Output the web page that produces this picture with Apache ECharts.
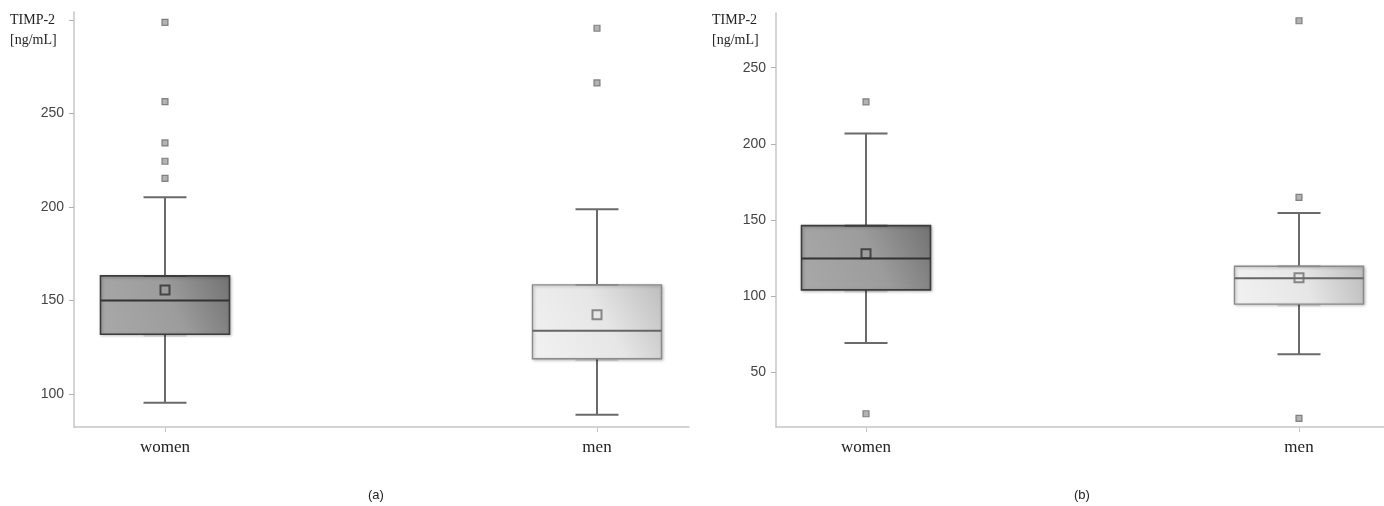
<!DOCTYPE html>
<html>
<head>
<meta charset="utf-8">
<script src="https://cdn.jsdelivr.net/npm/echarts@6/dist/echarts.min.js"></script>
<style>
html,body{margin:0;padding:0;background:#fff;}
#chart{width:1384px;height:506px;}
</style>
</head>
<body>
<div id="chart"></div>
<script>
// ---- data ----
const categories = ['women', 'men'];
// [min whisker, Q1, median, Q3, max whisker]
const boxA = [[95.4, 132.0, 150.0, 163.2, 205.2], [89.0, 118.9, 133.8, 158.4, 198.8]];
const meanA = [155.7, 142.4];
const outliersA = [[298.8, 256.4, 234.3, 224.5, 215.3], [295.6, 266.4]];
const boxB = [[69.2, 104.1, 124.8, 146.3, 206.8], [61.8, 94.8, 111.7, 119.6, 154.6]];
const meanB = [127.9, 112.1];
const outliersB = [[227.6, 22.8], [280.8, 164.8, 19.8]];
const yTicksA = [100, 150, 200, 250, 300];
const yLabelsA = [100, 150, 200, 250];
const yTicksB = [50, 100, 150, 200, 250];
const axisTitle = ['TIMP-2', '[ng/mL]'];
const captions = ['(a)', '(b)'];

// ---- styling ----
const BOX_W = 129, CAP_W = 43;
const boxStyles = [
  { fill: { type: 'linear', x: 0, y: 1, x2: 1, y2: 0, colorStops: [
      { offset: 0, color: '#a9a9a9' }, { offset: 0.55, color: '#9c9c9c' }, { offset: 1, color: '#727272' }] },
    stroke: '#3c3c3c', median: '#333333', lw: 1.6, mean: '#2e2e2e' },
  { fill: { type: 'linear', x: 0, y: 1, x2: 1, y2: 0, colorStops: [
      { offset: 0, color: '#f2f2f2' }, { offset: 0.55, color: '#e6e6e6' }, { offset: 1, color: '#bdbdbd' }] },
    stroke: '#8a8a8a', median: '#666666', lw: 1.4, mean: '#6e6e6e' }
];

function boxData(box) {
  return box.map((b, i) => [i + 1].concat(b));
}
function outlierData(out) {
  const res = [];
  out.forEach((arr, i) => arr.forEach(v => res.push([i + 1, v])));
  return res;
}
function meanData(m) {
  return m.map((v, i) => ({ value: [i + 1, v], itemStyle: { borderColor: boxStyles[i].mean } }));
}

function renderBox(params, api) {
  const idx = params.dataIndex;
  const st = boxStyles[idx];
  const x = api.value(0);
  const pMin = api.coord([x, api.value(1)]);
  const pQ1 = api.coord([x, api.value(2)]);
  const pMed = api.coord([x, api.value(3)]);
  const pQ3 = api.coord([x, api.value(4)]);
  const pMax = api.coord([x, api.value(5)]);
  const cx = pMed[0];
  const hw = BOX_W / 2, cw = CAP_W / 2;
  const wl = { stroke: '#6a6a6a', lineWidth: 2 };
  return {
    type: 'group',
    children: [
      { type: 'line', shape: { x1: cx, y1: pMax[1], x2: cx, y2: pQ3[1] }, style: wl },
      { type: 'line', shape: { x1: cx, y1: pMin[1], x2: cx, y2: pQ1[1] }, style: wl },
      { type: 'line', shape: { x1: cx - cw, y1: pMax[1], x2: cx + cw, y2: pMax[1] }, style: wl },
      { type: 'line', shape: { x1: cx - cw, y1: pMin[1], x2: cx + cw, y2: pMin[1] }, style: wl },
      { type: 'line', shape: { x1: cx - cw, y1: pQ1[1] + 1.5, x2: cx + cw, y2: pQ1[1] + 1.5 }, style: { stroke: 'rgba(0,0,0,0.12)', lineWidth: 2 } },
      { type: 'rect', shape: { x: cx - hw, y: pQ3[1], width: BOX_W, height: pQ1[1] - pQ3[1] },
        style: { fill: st.fill, stroke: st.stroke, lineWidth: st.lw,
          shadowBlur: 3, shadowColor: 'rgba(0,0,0,0.25)', shadowOffsetX: 1, shadowOffsetY: 1 } },
      { type: 'line', shape: { x1: cx - cw, y1: pQ3[1], x2: cx + cw, y2: pQ3[1] }, style: { stroke: st.stroke, lineWidth: st.lw + 0.4 } },
      { type: 'line', shape: { x1: cx - hw, y1: pMed[1], x2: cx + hw, y2: pMed[1] }, style: { stroke: st.median, lineWidth: 2 } }
    ]
  };
}

function makeGrid(left, top, width, height) { return { left, top, width, height, containLabel: false }; }

const axisLineStyle = { color: '#c6c6c6', width: 1.5 };
function makeXAxis(gridIndex, min, max) {
  return {
    type: 'value', gridIndex, min, max,
    axisLine: { show: true, lineStyle: axisLineStyle },
    axisTick: { show: true, length: 5, lineStyle: { color: '#c6c6c6' }, customValues: [1, 2] },
    axisLabel: { customValues: [1, 2], formatter: v => categories[Math.round(v) - 1] || '',
      fontFamily: 'Liberation Serif', fontSize: 17, color: '#222', margin: 12 },
    splitLine: { show: false }
  };
}
function makeYAxis(gridIndex, min, max, ticks, labels) {
  return {
    type: 'value', gridIndex, min, max,
    axisLine: { show: true, lineStyle: axisLineStyle },
    axisTick: { show: true, length: 5, lineStyle: { color: '#b0b0b0' }, customValues: ticks },
    axisLabel: { customValues: labels, fontFamily: 'Liberation Sans', fontSize: 14, color: '#444', margin: 10 },
    splitLine: { show: false }
  };
}

function seriesFor(idx, box, mean, outs) {
  return [
    { type: 'custom', xAxisIndex: idx, yAxisIndex: idx, data: boxData(box), renderItem: renderBox,
      encode: { x: 0, y: [1, 2, 3, 4, 5] }, silent: true, z: 2 },
    { type: 'scatter', xAxisIndex: idx, yAxisIndex: idx, data: outlierData(outs), symbol: 'rect', symbolSize: 6,
      itemStyle: { color: '#a0a0a0', borderColor: '#6a6a6a', borderWidth: 1.2 }, silent: true, z: 3 },
    { type: 'scatter', xAxisIndex: idx, yAxisIndex: idx, data: meanData(mean), symbol: 'rect', symbolSize: 9,
      itemStyle: { color: 'rgba(0,0,0,0)', borderWidth: 2 }, silent: true, z: 4 }
  ];
}

const titleStyle = { fontFamily: 'Liberation Serif', fontSize: 14, fill: '#222' };
const chart = echarts.init(document.getElementById('chart'), null, { renderer: 'canvas' });
chart.setOption({
  animation: false,
  backgroundColor: '#fff',
  grid: [makeGrid(74, 12, 615, 415), makeGrid(776, 13, 608, 414)],
  xAxis: [makeXAxis(0, 1 - 91 / 432, 2 + 92 / 432), makeXAxis(1, 1 - 90 / 433, 2 + 85 / 433)],
  yAxis: [makeYAxis(0, 82.4, 304.3, yTicksA, yLabelsA), makeYAxis(1, 14.1, 285.9, yTicksB, yTicksB)],
  series: seriesFor(0, boxA, meanA, outliersA).concat(seriesFor(1, boxB, meanB, outliersB)),
  graphic: [
    { type: 'text', left: 10, top: 13, style: Object.assign({ text: axisTitle[0] }, titleStyle) },
    { type: 'text', left: 10, top: 33, style: Object.assign({ text: axisTitle[1] }, titleStyle) },
    { type: 'text', left: 712, top: 13, style: Object.assign({ text: axisTitle[0] }, titleStyle) },
    { type: 'text', left: 712, top: 33, style: Object.assign({ text: axisTitle[1] }, titleStyle) },
    { type: 'text', left: 368, top: 489, style: { text: captions[0], fontFamily: 'Liberation Sans', fontSize: 13, fill: '#222' } },
    { type: 'text', left: 1074, top: 489, style: { text: captions[1], fontFamily: 'Liberation Sans', fontSize: 13, fill: '#222' } }
  ]
});
</script>
</body>
</html>
